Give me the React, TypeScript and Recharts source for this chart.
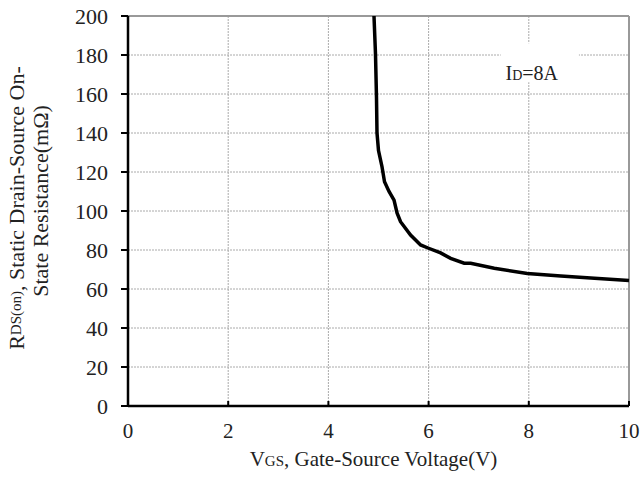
import React from "react";
import {
  LineChart,
  Line,
  XAxis,
  YAxis,
  CartesianGrid,
  ReferenceLine,
  ReferenceArea,
} from "recharts";

// VGS (V) vs RDS(on) (mΩ), ID = 8A
const vgs = [4.91, 4.94, 4.96, 4.97, 5.0, 5.07, 5.12, 5.21, 5.31, 5.37, 5.44, 5.64, 5.84, 6.0, 6.24, 6.44, 6.71, 6.84, 7.31, 7.97, 8.64, 9.31, 10.0];
const rdsOn = [200, 180.5, 158, 140, 131, 122.7, 115, 110, 105.6, 99, 94.5, 87.7, 82.6, 80.9, 78.5, 75.7, 73.2, 73.2, 70.6, 68, 66.7, 65.5, 64.3];

const xTicks = [0, 2, 4, 6, 8, 10];
const yTicks = [0, 20, 40, 60, 80, 100, 120, 140, 160, 180, 200];

const data = vgs.map((v, i) => ({ vgs: v, r: rdsOn[i] }));

const FONT = "'Liberation Serif', 'DejaVu Serif', serif";
const txt = { fontFamily: FONT };

function XTick(props: any) {
  const { x, y, payload } = props;
  return (
    <g>
      <line x1={x} x2={x} y1={y} y2={y - 5} stroke="#000" strokeWidth={2} />
      <text x={x} y={y + 32} textAnchor="middle" style={txt} fontSize={21} fill="#222">
        {payload.value}
      </text>
    </g>
  );
}

function YTick(props: any) {
  const { x, y, payload } = props;
  return (
    <text x={x} y={y + 8} textAnchor="end" style={txt} fontSize={22} fill="#222">
      {payload.value}
    </text>
  );
}

function YLabel(props: any) {
  const vb = props.viewBox || {};
  const cy = vb.y + vb.height / 2;
  return (
    <g style={txt} fill="#222">
      <text x={16} y={cy - 3} transform={`rotate(-90 16 ${cy - 3})`} textAnchor="middle" fontSize={22} dominantBaseline="central">
        R<tspan fontSize={15}>DS(on)</tspan>, Static Drain-Source On-
      </text>
      <text x={40} y={cy - 10} transform={`rotate(-90 40 ${cy - 10})`} textAnchor="middle" fontSize={22} dominantBaseline="central">
        State Resistance(mΩ)
      </text>
    </g>
  );
}

function XLabel(props: any) {
  const vb = props.viewBox || {};
  const cx = vb.x + vb.width / 2;
  return (
    <text x={cx - 5} y={466} textAnchor="middle" style={txt} fontSize={21} fill="#222">
      V<tspan fontSize={15}>GS</tspan>, Gate-Source Voltage(V)
    </text>
  );
}

function IdLabel(props: any) {
  const vb = props.viewBox || {};
  return (
    <text x={vb.x + vb.width / 2 - 8} y={vb.y + 37} textAnchor="middle" style={txt} fontSize={20} fill="#222">
      I<tspan fontSize={14}>D</tspan>=8A
    </text>
  );
}

export default function App() {
  return (
    <div style={{ position: "absolute", left: 0, top: 0, width: 643, height: 479, background: "#fff", fontFamily: FONT }}>
      <LineChart width={643} height={479} data={data} margin={{ top: 16, right: 14, bottom: 0, left: 28 }}>
        <CartesianGrid stroke="#aaa" strokeDasharray="2 1" strokeWidth={1} />
        <XAxis
          dataKey="vgs"
          type="number"
          domain={[0, 10]}
          ticks={xTicks}
          tickSize={0}
          tickMargin={0}
          tick={<XTick />}
          axisLine={{ stroke: "#000", strokeWidth: 2.5 }}
          tickLine={false}
          height={73}
          label={<XLabel />}
        />
        <YAxis
          dataKey="r"
          type="number"
          domain={[0, 200]}
          ticks={yTicks}
          width={100}
          tickSize={7}
          tickMargin={13}
          axisLine={{ stroke: "#000", strokeWidth: 2.5 }}
          tickLine={{ stroke: "#000", strokeWidth: 2 }}
          tick={<YTick />}
          label={<YLabel />}
        />
        <ReferenceLine y={200} stroke="#999" strokeWidth={2} />
        <ReferenceLine x={10} stroke="#999" strokeWidth={2} />
        <ReferenceArea x1={7.44} x2={9.0} y1={166} y2={186} fill="#fff" fillOpacity={1} stroke="none" label={<IdLabel />} />
        <Line
          type="linear"
          dataKey="r"
          stroke="#000"
          strokeWidth={3.5}
          dot={false}
          isAnimationActive={false}
        />
      </LineChart>
    </div>
  );
}
